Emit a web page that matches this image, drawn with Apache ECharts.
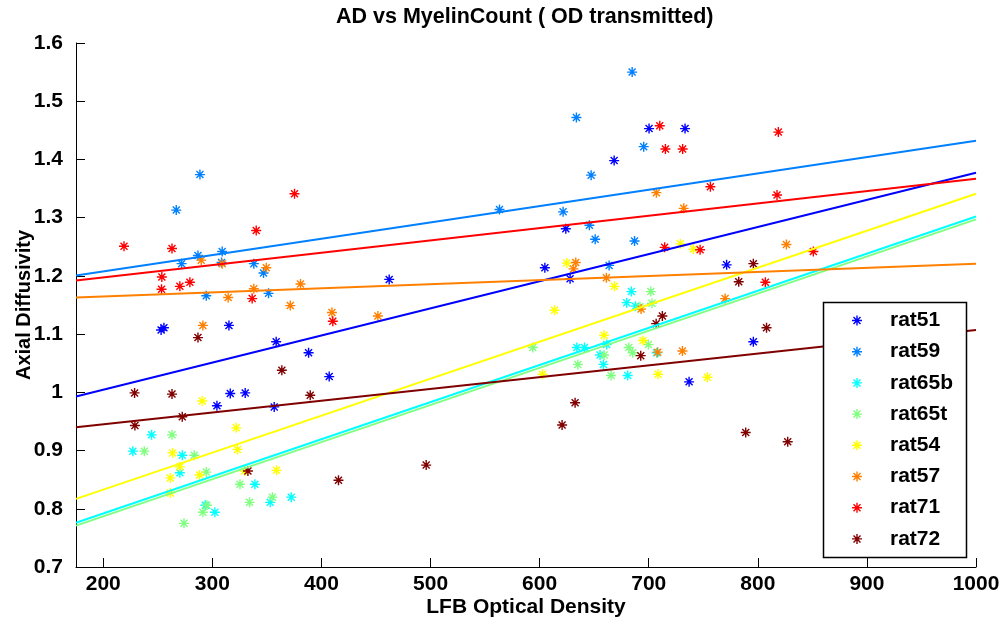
<!DOCTYPE html>
<html>
<head>
<meta charset="utf-8">
<script src="https://cdn.jsdelivr.net/npm/echarts@6/dist/echarts.min.js"></script>
<style>
html,body{margin:0;padding:0;background:#fff;}
#chart{width:1007px;height:628px;}
</style>
</head>
<body>
<div id="chart"></div>
<script>
var seriesNames = ['rat51','rat59','rat65b','rat65t','rat54','rat57','rat71','rat72'];
var seriesColors = ['#0000FF','#0080FF','#00FFFF','#80FF80','#FFFF00','#FF8000','#FF0000','#800000'];

var rat51 = [[253,1.107],[255.6,1.111],[315.2,1.115],[358.5,1.087],[388.2,1.068],[407.1,1.027],[304.2,0.977],[316.4,0.998],[330.1,0.999],[356.7,0.975],[462.1,1.194],[700.3,1.453],[733.3,1.453],[668.3,1.398],[624,1.281],[604.8,1.214],[627.9,1.195],[771.4,1.219],[795.9,1.087],[737,1.018]];
var rat59 = [[288.6,1.374],[266.9,1.313],[286.8,1.235],[309,1.242],[271.8,1.221],[308.4,1.223],[338,1.221],[346.9,1.205],[294.4,1.166],[351.5,1.170],[563.2,1.314],[684.8,1.550],[633.7,1.472],[695.4,1.422],[647.2,1.373],[621.5,1.310],[645.6,1.287],[650.9,1.263],[687,1.260],[663.7,1.218]];
var rat65b = [[244.3,0.927],[227.1,0.899],[272.4,0.892],[270.2,0.862],[339,0.842],[372.3,0.820],[353,0.811],[293.5,0.806],[302.3,0.794],[684.1,1.173],[679.8,1.154],[687.8,1.148],[634.1,1.077],[641.1,1.077],[661.5,1.082],[655.4,1.064],[707.3,1.068],[658.5,1.048],[680.7,1.029]];
var rat65t = [[263,0.927],[237.6,0.899],[283.4,0.892],[294.4,0.863],[325.3,0.842],[355.1,0.820],[334.1,0.811],[295,0.806],[291.3,0.794],[274,0.775],[701.9,1.173],[692,1.147],[703,1.153],[699.7,1.082],[593.7,1.077],[681.7,1.077],[685.3,1.068],[659.1,1.064],[635,1.048],[665.5,1.029]];
var rat54 = [[290.7,0.985],[321.9,0.939],[263.5,0.896],[323.1,0.902],[270.2,0.872],[261.4,0.853],[288.3,0.858],[329.5,0.865],[358.8,0.866],[261.4,0.827],[729,1.255],[740.9,1.246],[624.9,1.222],[668.5,1.182],[613.6,1.141],[659.1,1.098],[694.8,1.089],[602.6,1.031],[708.6,1.031],[753.8,1.026]];
var rat57 = [[289.8,1.227],[309,1.221],[349.4,1.214],[314.5,1.163],[338,1.178],[380.8,1.186],[371.4,1.149],[291.3,1.115],[409.6,1.137],[451.7,1.131],[707,1.343],[732.1,1.316],[826.2,1.254],[633.1,1.223],[631,1.212],[661.2,1.197],[693,1.143],[770,1.161],[708.2,1.069],[730.9,1.071]];
var rat71 = [[375.3,1.341],[219,1.251],[263,1.247],[340.2,1.278],[253.7,1.198],[253.4,1.177],[270.2,1.182],[279.4,1.189],[336.5,1.161],[410.4,1.122],[710.1,1.458],[715.3,1.418],[731.1,1.418],[818.8,1.447],[756.5,1.353],[817.6,1.339],[714.6,1.249],[747.1,1.245],[806.9,1.189],[850.9,1.242]];
var rat72 = [[286.8,1.094],[363.7,1.038],[228.7,0.999],[263,0.997],[229,0.943],[272.4,0.958],[332.6,0.865],[389.7,0.995],[415.6,0.849],[496,0.875],[795.9,1.221],[782.5,1.190],[712.5,1.131],[706.8,1.118],[808,1.111],[692.7,1.063],[632.5,0.982],[620.6,0.944],[788.9,0.931],[827.4,0.915]];

var fitX = [175, 1000];
var fitLeft  = [0.993, 1.2005, 0.776, 0.771, 0.817, 1.163, 1.192, 0.940];
var fitRight = [1.377, 1.432, 1.302, 1.297, 1.341, 1.221, 1.367, 1.107];

var xTicks = [200,300,400,500,600,700,800,900,1000];
var yTicks = [0.7,0.8,0.9,1.0,1.1,1.2,1.3,1.4,1.5,1.6];

var allData = [rat51, rat59, rat65b, rat65t, rat54, rat57, rat71, rat72];

var star = 'path://M43,0 L57,0 L57,100 L43,100 Z M0,43 L100,43 L100,57 L0,57 Z M10,20 L20,10 L90,80 L80,90 Z M80,10 L90,20 L20,90 L10,80 Z';

var FONT = "'Liberation Sans', Arial, Helvetica, sans-serif";

var series = [];
seriesNames.forEach(function (n, i) {
  series.push({
    name: n,
    type: 'scatter',
    data: allData[i],
    symbol: star,
    symbolSize: 10,
    itemStyle: { color: seriesColors[i], opacity: 1 },
    z: 2
  });
});
seriesNames.forEach(function (n, i) {
  series.push({
    name: n + ' fit',
    type: 'line',
    data: [[fitX[0], fitLeft[i]], [fitX[1], fitRight[i]]],
    showSymbol: false,
    symbol: 'none',
    lineStyle: { color: seriesColors[i], width: 2 },
    silent: true,
    z: 3
  });
});

var chart = echarts.init(document.getElementById('chart'), null, { renderer: 'canvas' });
chart.setOption({
  animation: false,
  backgroundColor: '#ffffff',
  title: {
    text: 'AD vs MyelinCount ( OD transmitted)',
    left: 336,
    top: 6,
    padding: 0,
    textStyle: { fontFamily: FONT, fontSize: 21.5, fontWeight: 'bold', color: '#000' }
  },
  grid: { left: 76, right: 31, top: 43, bottom: 61, containLabel: false, outerBoundsMode: 'none' },
  xAxis: {
    type: 'value',
    min: 175,
    max: 1000,
    name: 'LFB Optical Density',
    nameLocation: 'middle',
    nameGap: 30,
    nameMoveOverlap: false,
    nameTextStyle: { fontFamily: FONT, fontSize: 21, fontWeight: 'bold', color: '#000' },
    axisLine: { show: true, lineStyle: { color: '#000', width: 1 } },
    axisTick: { show: true, inside: true, length: 9, customValues: xTicks, lineStyle: { color: '#000' } },
    axisLabel: {
      customValues: xTicks, margin: 7, fontFamily: FONT, fontSize: 21, fontWeight: 'bold', color: '#000',
      formatter: function (v) { return String(v); }
    },
    splitLine: { show: false }
  },
  yAxis: {
    type: 'value',
    min: 0.7,
    max: 1.6,
    name: 'Axial Diffusivity',
    nameLocation: 'middle',
    nameGap: 42,
    nameMoveOverlap: false,
    nameTextStyle: { fontFamily: FONT, fontSize: 20, fontWeight: 'bold', color: '#000' },
    axisLine: { show: true, lineStyle: { color: '#000', width: 1 } },
    axisTick: { show: true, inside: true, length: 9, customValues: yTicks, lineStyle: { color: '#000' } },
    axisLabel: {
      customValues: yTicks, margin: 13, fontFamily: FONT, fontSize: 21, fontWeight: 'bold', color: '#000',
      formatter: function (v) { return String(Math.round(v * 10) / 10); }
    },
    splitLine: { show: false }
  },
  graphic: [{
    type: 'rect',
    shape: { x: 823.5, y: 302.5, width: 143, height: 255 },
    style: { fill: '#ffffff', stroke: '#000', lineWidth: 1.5 },
    z: 5
  }],
  legend: {
    data: seriesNames.map(function (n) { return { name: n, icon: star }; }),
    orient: 'vertical',
    left: 852,
    top: 310,
    padding: 0,
    itemGap: 10.2,
    itemWidth: 10,
    itemHeight: 10,
    selectedMode: false,
    z: 10,
    textStyle: { fontFamily: FONT, fontSize: 21, fontWeight: 'bold', color: '#000', padding: [0, 0, 0, 23] }
  },
  series: series
});
</script>
</body>
</html>
